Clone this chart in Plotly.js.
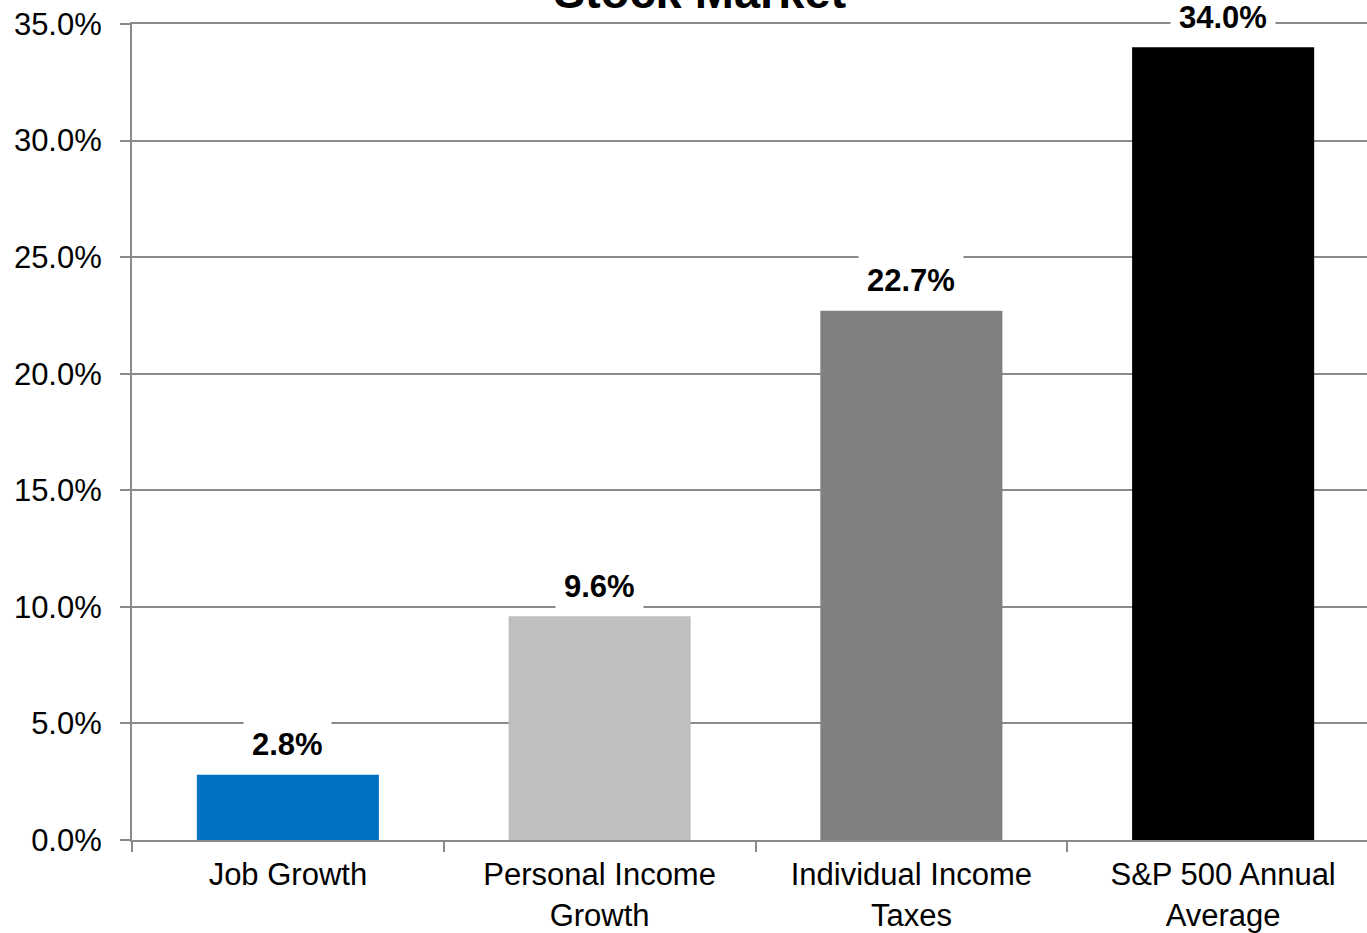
<!DOCTYPE html>
<html>
<head>
<meta charset="utf-8">
<script src="https://cdn.plot.ly/plotly-3.0.1.min.js"></script>
<style>html,body{margin:0;padding:0;background:#fff;overflow:hidden}</style>
</head>
<body>
<div id="chart" style="width:1367px;height:933px"></div>
<script>
var categories = ["Job Growth", "Personal Income<br>Growth", "Individual Income<br>Taxes", "S&P 500 Annual<br>Average"];
var values = [2.8, 9.6, 22.7, 34.0];
var barColors = ["#0070C0", "#BFBFBF", "#808080", "#000000"];
var yTickValues = [0, 5, 10, 15, 20, 25, 30, 35];
var yTickLabels = ["0.0%", "5.0%", "10.0%", "15.0%", "20.0%", "25.0%", "30.0%", "35.0%"];
var titleText = "Stock Market";

var FONT = "Liberation Sans, Arial, sans-serif";
var GRID = "#8a8a8a";

var trace = {
  type: "bar",
  x: categories,
  y: values,
  marker: {color: barColors, line: {width: 0}},
  hoverinfo: "skip"
};

var annotations = values.map(function (v, i) {
  return {
    x: categories[i], y: v, xref: "x", yref: "y",
    text: "<b>" + v.toFixed(1) + "%</b>",
    showarrow: false, yanchor: "middle", yshift: 30,
    bgcolor: "#ffffff", borderpad: 8,
    font: {family: FONT, size: 31, color: "#000"}
  };
});

var layout = {
  width: 1367, height: 933,
  margin: {l: 132, r: 0, t: 24, b: 93},
  paper_bgcolor: "#fff", plot_bgcolor: "#fff",
  font: {family: FONT, size: 31, color: "#000"},
  showlegend: false,
  bargap: 0.416,
  title: {
    text: "<b>" + titleText + "</b>",
    font: {family: FONT, size: 47, color: "#000"},
    xref: "container", x: 700 / 1367, xanchor: "center",
    yref: "container", y: 1 - 8 / 933, yanchor: "bottom"
  },
  xaxis: {
    type: "category",
    range: [-0.5, -0.5 + 4 * (1235 / 1247)],
    tickson: "boundaries",
    ticks: "outside", ticklen: 10, tickwidth: 2, tickcolor: GRID,
    showline: true, mirror: true, linecolor: GRID, linewidth: 2,
    showgrid: false, zeroline: false,
    ticklabelstandoff: 6,
    tickfont: {family: FONT, size: 31, color: "#000"},
    fixedrange: true
  },
  yaxis: {
    range: [0, 35],
    tickmode: "array",
    tickvals: yTickValues,
    ticktext: yTickLabels,
    ticks: "outside", ticklen: 10, tickwidth: 2, tickcolor: GRID,
    showline: true, linecolor: GRID, linewidth: 2,
    showgrid: true, gridcolor: GRID, gridwidth: 2,
    zeroline: false,
    ticklabelstandoff: 12,
    tickfont: {family: FONT, size: 31, color: "#000"},
    fixedrange: true
  },
  annotations: annotations
};

Plotly.newPlot("chart", [trace], layout, {displayModeBar: false, staticPlot: true});
</script>
</body>
</html>
